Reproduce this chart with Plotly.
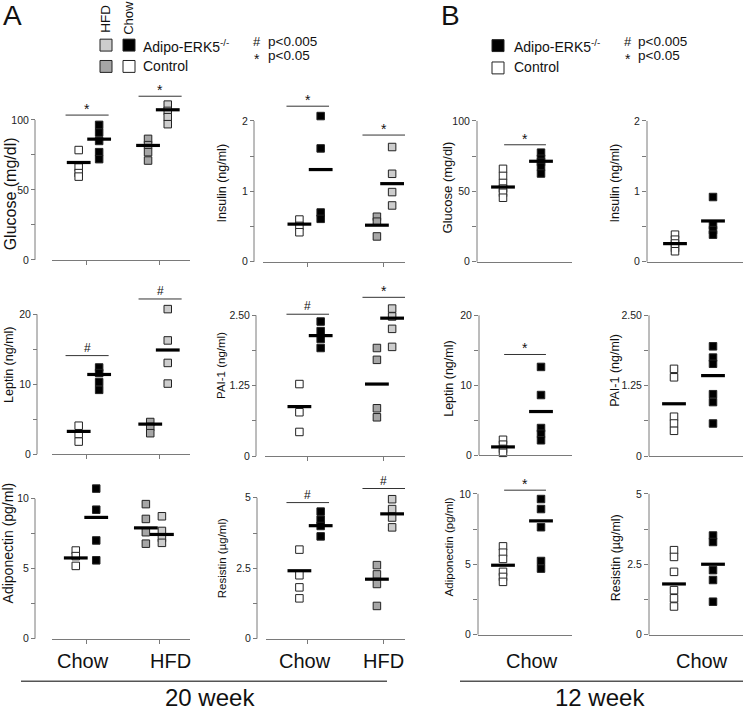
import plotly.graph_objects as go

W, H = 745, 718
FONT = "Liberation Sans, Arial, sans-serif"

# ---------------- A: 20 week (Chow / HFD) ----------------
a_categories = ["Chow", "HFD"]

a_glucose_chow_ctrl = [78.5, 66, 62, 59.5]
a_glucose_chow_ko = [96.5, 91, 85, 77, 72]
a_glucose_hfd_ctrl = [86.5, 82, 77, 71]
a_glucose_hfd_ko = [111, 106.5, 102, 97]
a_glucose_means = [69.6, 86.3, 81.8, 107.3]

a_insulin_chow_ctrl = [0.60, 0.51, 0.42]
a_insulin_chow_ko = [2.07, 1.61, 0.70, 0.61]
a_insulin_hfd_ctrl = [0.64, 0.57, 0.36]
a_insulin_hfd_ko = [1.63, 1.25, 0.99, 0.80]
a_insulin_means = [0.535, 1.31, 0.52, 1.11]

a_leptin_chow_ctrl = [4.07, 2.88, 1.80]
a_leptin_chow_ko = [12.4, 11.6, 10.3, 9.2]
a_leptin_hfd_ctrl = [4.6, 3.9, 3.0]
a_leptin_hfd_ko = [20.75, 16.27, 13.05, 10.1]
a_leptin_means = [3.26, 11.4, 4.3, 14.9]

a_pai1_chow_ctrl = [1.28, 0.78, 0.43]
a_pai1_chow_ko = [2.39, 2.22, 2.08, 1.92]
a_pai1_hfd_ctrl = [1.92, 1.71, 0.85, 0.69]
a_pai1_hfd_ko = [2.62, 2.48, 2.26, 1.94]
a_pai1_means = [0.88, 2.14, 1.28, 2.45]

a_adipo_chow_ctrl = [6.3, 5.9, 5.2]
a_adipo_chow_ko = [10.73, 9.22, 7.02, 5.6]
a_adipo_hfd_ctrl = [9.62, 8.56, 7.61, 6.79]
a_adipo_hfd_ko = [8.75, 7.7, 7.2, 6.85]
a_adipo_means = [5.77, 8.67, 7.92, 7.45]

a_resistin_chow_ctrl = [3.16, 2.25, 1.82, 1.43]
a_resistin_chow_ko = [4.51, 4.22, 4.0, 3.63]
a_resistin_hfd_ctrl = [2.61, 2.28, 1.94, 1.16]
a_resistin_hfd_ko = [4.95, 4.6, 4.3, 3.95]
a_resistin_means = [2.41, 4.01, 2.11, 4.43]

# ---------------- B: 12 week (Chow) ----------------
b_glucose_ctrl = [66, 61, 56, 52, 49, 45.5]
b_glucose_ko = [77.5, 73.2, 70.9, 67.4, 62.7]
b_glucose_means = [53.1, 71.4]

b_insulin_ctrl = [0.385, 0.314, 0.26, 0.197, 0.15]
b_insulin_ko = [0.92, 0.52, 0.45, 0.385]
b_insulin_means = [0.258, 0.58]

b_leptin_ctrl = [2.2, 1.5, 0.9, 0.33]
b_leptin_ko = [12.62, 8.6, 3.88, 3.07, 2.13]
b_leptin_means = [1.18, 6.24]

b_pai1_ctrl = [1.55, 1.40, 0.70, 0.58, 0.45]
b_pai1_ko = [1.95, 1.75, 1.64, 1.10, 0.96, 0.58]
b_pai1_means = [0.93, 1.43]

b_adipo_ctrl = [6.27, 5.82, 5.38, 4.46, 4.1, 3.75]
b_adipo_ko = [9.63, 8.92, 7.63, 5.23, 4.69]
b_adipo_means = [4.93, 8.08]

b_resistin_ctrl = [3.0, 2.76, 2.23, 1.58, 1.29, 1.0]
b_resistin_ko = [3.52, 3.29, 2.29, 1.94, 1.17]
b_resistin_means = [1.80, 2.50]

# axis scales and labels
y_max = {"glucose": 100, "insulin": 2, "leptin": 20, "pai1": 2.5, "adipo": 10, "resistin": 5}
y_ticklabels = {
    "glucose": ["0", "50", "100"],
    "insulin": ["0", "1", "2"],
    "leptin": ["0", "10", "20"],
    "pai1": ["0", "1.25", "2.50"],
    "adipo": ["0", "5", "10"],
    "resistin": ["0", "2.5", "5"],
}
y_titles = {
    "glucose": "Glucose (mg/dl)", "insulin": "Insulin (ng/ml)", "leptin": "Leptin (ng/ml)",
    "pai1": "PAI-1 (ng/ml)", "adipo": "Adiponectin (pg/ml)", "resistin": "Resistin (µg/ml)",
}

# significance marks: (panel, category index, level, symbol)
a_sig = [
    ("glucose", 0, 103.5, "*"), ("glucose", 1, 117, "*"),
    ("insulin", 0, 2.21, "*"), ("insulin", 1, 1.80, "*"),
    ("leptin", 0, 14.1, "#"), ("leptin", 1, 22.2, "#"),
    ("pai1", 0, 2.52, "#"), ("pai1", 1, 2.82, "*"),
    ("resistin", 0, 4.83, "#"), ("resistin", 1, 5.33, "#"),
]
b_sig = [("glucose", 83.1, "*"), ("leptin", 14.4, "*"), ("adipo", 10.26, "*")]

# ---------------- styling ----------------
C_CTRL_CHOW = "white"
C_KO_CHOW = "black"
C_CTRL_HFD = "#a6a6a6"
C_KO_HFD = "#cdcdcd"
AXC = "#7a7a7a"
EDGE = "#222222"
EXT = 1.25  # headroom above the drawn axis for points / brackets

A_panels = [
    dict(key="glucose", xd=(52, 190), yd=(121, 262), ypos=35, cats=(86, 159), offs=(-0.1, 0.18, -0.15, 0.12),
         title=(10, 196, 16), data=(a_glucose_chow_ctrl, a_glucose_chow_ko, a_glucose_hfd_ctrl, a_glucose_hfd_ko), means=a_glucose_means),
    dict(key="insulin", xd=(263, 405), yd=(122, 264), ypos=254, cats=(307, 383), offs=(-0.1, 0.18, -0.08, 0.12),
         title=(222, 185, 12.5), data=(a_insulin_chow_ctrl, a_insulin_chow_ko, a_insulin_hfd_ctrl, a_insulin_hfd_ko), means=a_insulin_means),
    dict(key="leptin", xd=(52, 190), yd=(317, 458), ypos=37, cats=(86, 159), offs=(-0.1, 0.18, -0.12, 0.12),
         title=(9, 368, 12.5), data=(a_leptin_chow_ctrl, a_leptin_chow_ko, a_leptin_hfd_ctrl, a_leptin_hfd_ko), means=a_leptin_means),
    dict(key="pai1", xd=(265, 405), yd=(318, 460), ypos=256, cats=(307, 383), offs=(-0.1, 0.18, -0.08, 0.12),
         title=(221, 369, 11.5), data=(a_pai1_chow_ctrl, a_pai1_chow_ko, a_pai1_hfd_ctrl, a_pai1_hfd_ko), means=a_pai1_means),
    dict(key="adipo", xd=(52, 190), yd=(503, 644), ypos=35, cats=(86, 159), offs=(-0.14, 0.14, -0.18, 0.04),
         title=(8, 548, 14), data=(a_adipo_chow_ctrl, a_adipo_chow_ko, a_adipo_hfd_ctrl, a_adipo_hfd_ko), means=a_adipo_means),
    dict(key="resistin", xd=(266, 405), yd=(502, 644), ypos=257, cats=(307, 383), offs=(-0.1, 0.18, -0.08, 0.12),
         title=(222, 563, 11.5), data=(a_resistin_chow_ctrl, a_resistin_chow_ko, a_resistin_hfd_ctrl, a_resistin_hfd_ko), means=a_resistin_means),
]
B_panels = [
    dict(key="glucose", xd=(477, 572), yd=(122, 264), cats=(503, 541), title=(447, 189, 13), data=(b_glucose_ctrl, b_glucose_ko), means=b_glucose_means),
    dict(key="insulin", xd=(647, 743), yd=(122, 264), cats=(675, 713), title=(615, 185, 12.5), data=(b_insulin_ctrl, b_insulin_ko), means=b_insulin_means),
    dict(key="leptin", xd=(479, 572), yd=(318, 459), cats=(503, 541), title=(449, 382, 12.5), data=(b_leptin_ctrl, b_leptin_ko), means=b_leptin_means),
    dict(key="pai1", xd=(649, 743), yd=(318, 460), cats=(674, 713), title=(615, 374, 12.5), data=(b_pai1_ctrl, b_pai1_ko), means=b_pai1_means),
    dict(key="adipo", xd=(478, 572), yd=(498, 640), cats=(503, 541), title=(449, 552, 11.5), data=(b_adipo_ctrl, b_adipo_ko), means=b_adipo_means),
    dict(key="resistin", xd=(649, 743), yd=(498, 640), cats=(674, 713), title=(616, 563, 12.5), data=(b_resistin_ctrl, b_resistin_ko), means=b_resistin_means),
]

fig = go.Figure()
layout = {}
shapes = []
annotations = []


def xr_from(p):
    c0, c1 = p["cats"]
    u = c1 - c0
    return [(p["xd"][0] - c0) / u, (p["xd"][1] - c0) / u]


def add_panel(idx, p, groups, is_a):
    n = "" if idx == 1 else str(idx)
    xr = xr_from(p)
    ym = y_max[p["key"]]
    ytop, ybot = p["yd"]
    top_ext = ybot - (ybot - ytop) * EXT
    xa = dict(domain=[p["xd"][0] / W, p["xd"][1] / W], range=xr, anchor="y" + n,
              showgrid=False, zeroline=False, showline=True, linecolor=AXC, linewidth=1,
              fixedrange=True, showticklabels=False)
    if is_a:
        xa.update(tickmode="array", tickvals=[0, 1], ticks="outside", ticklen=4, tickcolor=AXC)
    else:
        xa.update(ticks="")
    ya = dict(domain=[1 - ybot / H, 1 - top_ext / H], range=[0, ym * EXT],
              showgrid=False, zeroline=False, showline=False,
              ticks="outside", ticklen=4, tickcolor=AXC, fixedrange=True,
              tickmode="array", tickvals=[0, ym / 2, ym], ticktext=y_ticklabels[p["key"]],
              minor=dict(tickmode="array", tickvals=[ym / 4, 3 * ym / 4], ticks="outside", ticklen=4, tickcolor=AXC, showgrid=False),
              tickfont=dict(family=FONT, size=10.5, color="#222"))
    if is_a:
        ya.update(anchor="free", position=p["ypos"] / W)
        axis_x = p["ypos"]
    else:
        ya.update(anchor="x" + n)
        axis_x = p["xd"][0]
    layout["xaxis" + n] = xa
    layout["yaxis" + n] = ya
    # visible y-axis line spans only 0..max
    shapes.append(dict(type="line", xref="paper", yref="paper", x0=axis_x / W, x1=axis_x / W,
                       y0=1 - ybot / H, y1=1 - ytop / H, line=dict(color=AXC, width=1)))

    for (xpos, color), vals in zip(groups, p["data"]):
        fig.add_trace(go.Scatter(x=[xpos] * len(vals), y=vals, mode="markers", xaxis="x" + n, yaxis="y" + n,
                                 marker=dict(symbol="square", size=7.5, color=color, line=dict(color=EDGE, width=1)),
                                 cliponaxis=False, showlegend=False, hoverinfo="skip"))
    for (xpos, color), m in zip(groups, p["means"]):
        fig.add_trace(go.Scatter(x=[xpos], y=[m], mode="markers", xaxis="x" + n, yaxis="y" + n,
                                 marker=dict(symbol="line-ew", size=17, line=dict(color="black", width=3.2)),
                                 cliponaxis=False, showlegend=False, hoverinfo="skip"))

    tx, ty, ts = p["title"]
    annotations.append(dict(text=y_titles[p["key"]], x=tx / W, y=1 - ty / H, xref="paper", yref="paper",
                            textangle=-90, showarrow=False, xanchor="center", yanchor="middle",
                            font=dict(family=FONT, size=ts, color="#111")))
    return n


def add_sig(n, x0, x1, level, sym):
    shapes.append(dict(type="line", xref="x" + n, yref="y" + n, x0=x0, x1=x1, y0=level, y1=level,
                       line=dict(color="#333", width=1)))
    annotations.append(dict(text=sym, xref="x" + n, yref="y" + n, x=(x0 + x1) / 2, y=level, showarrow=False,
                            xanchor="center", yanchor="bottom", yshift=(-4 if sym == "*" else -1),
                            font=dict(family=FONT, size=(14 if sym == "*" else 12), color="#111")))


idx = 1
a_info = {}
for p in A_panels:
    o = p["offs"]
    groups = [(0 + o[0], C_CTRL_CHOW), (0 + o[1], C_KO_CHOW), (1 + o[2], C_CTRL_HFD), (1 + o[3], C_KO_HFD)]
    a_info[p["key"]] = add_panel(idx, p, groups, True)
    idx += 1
b_info = {}
for p in B_panels:
    groups = [(0, C_CTRL_CHOW), (1, C_KO_CHOW)]
    b_info[p["key"]] = add_panel(idx, p, groups, False)
    idx += 1

for key, ci, lvl, sym in a_sig:
    n = a_info[key]
    if key in ("glucose", "leptin", "adipo"):
        add_sig(n, ci - 0.28, ci + 0.31, lvl, sym)
    else:
        add_sig(n, ci - 0.27, ci + 0.29, lvl, sym)
for key, lvl, sym in b_sig:
    add_sig(b_info[key], 0.03, 1.13, lvl, sym)


def ann(text, px, py, size, xanchor="center", yanchor="middle", angle=0, color="#111"):
    annotations.append(dict(text=text, x=px / W, y=1 - py / H, xref="paper", yref="paper", showarrow=False,
                            xanchor=xanchor, yanchor=yanchor, textangle=angle,
                            font=dict(family=FONT, size=size, color=color)))


def sq(cx, cy, fill, s=12):
    shapes.append(dict(type="rect", xref="paper", yref="paper",
                       x0=(cx - s / 2) / W, x1=(cx + s / 2) / W, y0=1 - (cy + s / 2) / H, y1=1 - (cy - s / 2) / H,
                       fillcolor=fill, line=dict(color=EDGE, width=1)))


# panel letters
ann("A", 12, 16, 28)
ann("B", 450, 16, 28)

# legend A
ann("HFD", 106, 19, 13.5, angle=-90)
ann("Chow", 129, 18, 13, angle=-90)
sq(106, 45.5, C_KO_HFD)
sq(129, 45.5, C_KO_CHOW)
sq(106, 67, C_CTRL_HFD)
sq(129, 67, C_CTRL_CHOW)
ann("Adipo-ERK5<sup>-/-</sup>", 141, 46, 14, xanchor="left")
ann("Control", 141, 67, 14, xanchor="left")
ann("#", 257, 42, 13)
ann("p<0.005", 266, 42, 13.5, xanchor="left")
ann("*", 257, 60, 14)
ann("p<0.05", 266, 56, 13.5, xanchor="left")

# legend B
sq(498, 46, C_KO_CHOW)
sq(498, 68.5, C_CTRL_CHOW)
ann("Adipo-ERK5<sup>-/-</sup>", 512, 46, 14, xanchor="left")
ann("Control", 512, 68, 14, xanchor="left")
ann("#", 628, 42, 13)
ann("p<0.005", 636, 42, 13.5, xanchor="left")
ann("*", 628, 60, 14)
ann("p<0.05", 636, 56, 13.5, xanchor="left")

# category labels
ann(a_categories[0], 83, 667, 20)
ann(a_categories[1], 170, 667, 20)
ann(a_categories[0], 305, 667, 20)
ann(a_categories[1], 383, 667, 20)
ann("Chow", 532, 667, 20)
ann("Chow", 702, 667, 20)

# group lines and labels
shapes.append(dict(type="line", xref="paper", yref="paper", x0=21 / W, x1=387 / W, y0=1 - 687 / H, y1=1 - 687 / H,
                   line=dict(color="#555", width=1.3)))
shapes.append(dict(type="line", xref="paper", yref="paper", x0=460 / W, x1=743 / W, y0=1 - 687 / H, y1=1 - 687 / H,
                   line=dict(color="#555", width=1.3)))
ann("20 week", 210, 703, 24)
ann("12 week", 600, 703, 24)

fig.update_layout(**layout)
fig.update_layout(width=W, height=H, autosize=False, margin=dict(l=0, r=0, t=0, b=0),
                  paper_bgcolor="white", plot_bgcolor="white", showlegend=False,
                  shapes=shapes, annotations=annotations, font=dict(family=FONT))

fig.write_html("out.html", config={"displayModeBar": False, "staticPlot": True},
               post_script="document.body.style.margin='0';document.body.style.overflow='hidden';")
